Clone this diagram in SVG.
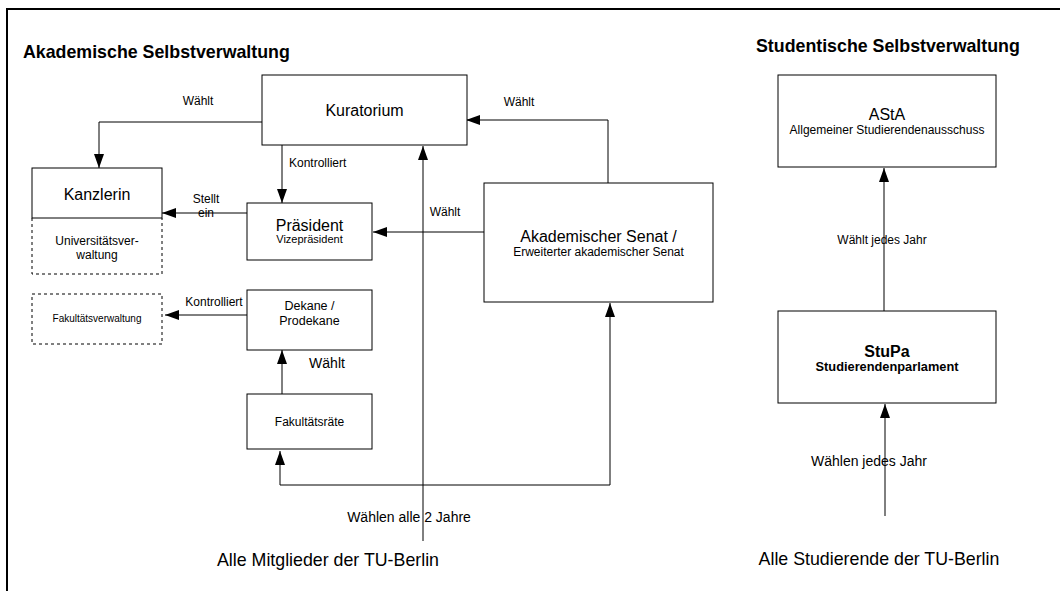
<svg xmlns="http://www.w3.org/2000/svg" width="1060" height="591" viewBox="0 0 1060 591">
<defs>
<style>
text{font-family:"Liberation Sans",Arial,sans-serif;fill:#000}
.box{fill:#fff;stroke:#000;stroke-width:1}
.dash{fill:none;stroke:#000;stroke-width:1;stroke-dasharray:3,3}
.c{text-anchor:middle}
.ln{fill:none;stroke:#000;stroke-width:1}
.ttl{font-weight:bold;font-size:17.8px}
</style>
<marker id="ah" markerUnits="userSpaceOnUse" markerWidth="14" markerHeight="10" refX="14" refY="5" orient="auto-start-reverse" viewBox="0 0 14 10">
<path d="M0,0 L14,5 L0,10 z" fill="#000"/>
</marker>
</defs>
<rect x="0" y="0" width="1060" height="591" fill="#fff"/>
<path d="M7,591 V9 H1060" fill="none" stroke="#000" stroke-width="2"/>
<text x="23" y="58" class="ttl">Akademische Selbstverwaltung</text>
<text x="756" y="52" class="ttl">Studentische Selbstverwaltung</text>

<g id="connectors">
<path class="ln" d="M262,122 H99 V168" marker-end="url(#ah)"/>
<text x="198" y="105" class="c" font-size="12">Wählt</text>
<path class="ln" d="M282,145 V203" marker-end="url(#ah)"/>
<text x="289" y="167" font-size="12">Kontrolliert</text>
<path class="ln" d="M247,213 H162" marker-end="url(#ah)"/>
<text x="206" y="203" class="c" font-size="12">Stellt</text>
<text x="206" y="217" class="c" font-size="12">ein</text>
<path class="ln" d="M247,315 H165" marker-end="url(#ah)"/>
<text x="214" y="306" class="c" font-size="12">Kontrolliert</text>
<path class="ln" d="M484,232 H373" marker-end="url(#ah)"/>
<text x="445" y="216" class="c" font-size="12">Wählt</text>
<path class="ln" d="M608,183 V120 H466" marker-end="url(#ah)"/>
<text x="519" y="106" class="c" font-size="12">Wählt</text>
<path class="ln" d="M282,394 V350" marker-end="url(#ah)"/>
<text x="327" y="368" class="c" font-size="14">Wählt</text>
<path class="ln" d="M280,451 V485 H610 V303" marker-start="url(#ah)" marker-end="url(#ah)"/>
<path class="ln" d="M423,541 V146" marker-end="url(#ah)"/>
<text x="409" y="522" class="c" font-size="14">Wählen alle 2 Jahre</text>
<text x="328" y="566" class="c" font-size="17.8">Alle Mitglieder der TU-Berlin</text>
<path class="ln" d="M884,311 V168" marker-end="url(#ah)"/>
<text x="882" y="244" class="c" font-size="12">Wählt jedes Jahr</text>
<path class="ln" d="M885,516 V404" marker-end="url(#ah)"/>
<text x="869" y="466" class="c" font-size="14">Wählen jedes Jahr</text>
<text x="879" y="565" class="c" font-size="17.8">Alle Studierende der TU-Berlin</text>
</g>

<g id="kuratorium">
<rect class="box" x="262" y="75" width="205" height="70"/>
<text x="364.5" y="116" class="c" font-size="16">Kuratorium</text>
</g>
<g id="kanzlerin">
<rect class="box" x="32" y="168" width="130" height="50"/>
<text x="97" y="200" class="c" font-size="16">Kanzlerin</text>
</g>
<g id="universitaetsverwaltung">
<path class="dash" d="M32,218 V274 H162 V218"/>
<text x="97" y="245" class="c" font-size="12">Universitätsver-</text>
<text x="97" y="259" class="c" font-size="12">waltung</text>
</g>
<g id="praesident">
<rect class="box" x="247" y="203" width="125" height="57"/>
<text x="309.5" y="231" class="c" font-size="16">Präsident</text>
<text x="309.5" y="243" class="c" font-size="11">Vizepräsident</text>
</g>
<g id="fakultaetsverwaltung">
<rect class="dash" x="32" y="294" width="130" height="50"/>
<text x="97" y="322" class="c" font-size="10">Fakultätsverwaltung</text>
</g>
<g id="dekane">
<rect class="box" x="247" y="290" width="125" height="60"/>
<text x="309.5" y="310" class="c" font-size="12.5">Dekane /</text>
<text x="309.5" y="325" class="c" font-size="12.5">Prodekane</text>
</g>
<g id="fakultaetsraete">
<rect class="box" x="247" y="394" width="125" height="55"/>
<text x="309.5" y="426" class="c" font-size="12">Fakultätsräte</text>
</g>
<g id="senat">
<rect class="box" x="484" y="183" width="229" height="119"/>
<text x="598.5" y="242" class="c" font-size="16">Akademischer Senat /</text>
<text x="598.5" y="256" class="c" font-size="12">Erweiterter akademischer Senat</text>
</g>
<g id="asta">
<rect class="box" x="778" y="75" width="218" height="92"/>
<text x="887" y="120" class="c" font-size="16">AStA</text>
<text x="887" y="134" class="c" font-size="12">Allgemeiner Studierendenausschuss</text>
</g>
<g id="stupa">
<rect class="box" x="778" y="311" width="218" height="92"/>
<text x="887" y="357" class="c" font-size="16" font-weight="bold">StuPa</text>
<text x="887" y="371" class="c" font-size="12.8" font-weight="bold">Studierendenparlament</text>
</g>
</svg>
